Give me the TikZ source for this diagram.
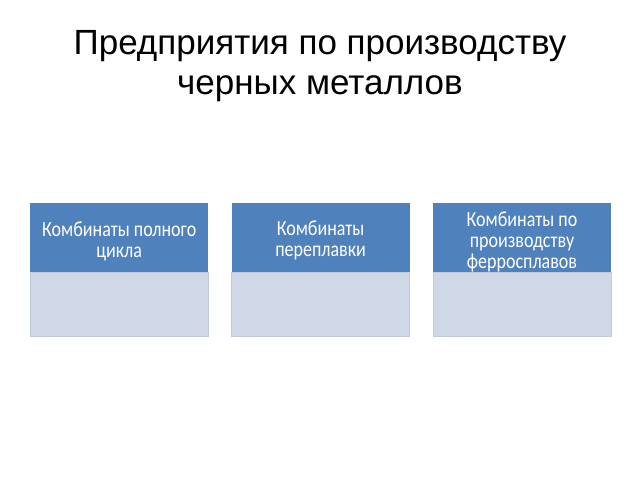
\documentclass[tikz,border=0pt]{standalone}
\usepackage{fontspec}
\setmainfont{Liberation Sans}
\newfontfamily\boxfont{Carlito}
\usepackage{xcolor}
\usetikzlibrary{positioning}
\definecolor{headblue}{HTML}{4F81BD}
\definecolor{bodyblue}{HTML}{D0D8E8}
\tikzstyle{title} = [align=center, font=\fontsize{35}{40}\selectfont, inner sep=0]
\tikzstyle{head} = [fill=headblue, minimum width=178pt, minimum height=69pt, inner sep=0]
\tikzstyle{headtext} = [text=white, align=center, inner sep=0, yscale=1.2, transform shape, font=\boxfont\fontsize{18}{17.5}\selectfont]
\tikzstyle{body} = [fill=bodyblue, draw=bodyblue!85!gray, minimum width=178pt, minimum height=64pt, inner sep=0]

\begin{document}
\begin{tikzpicture}[x=1pt, y=1pt, node distance=23pt]
	  \useasboundingbox [fill=white] (0,0) rectangle (640,-480);
	  \node [title, anchor=north] (title) at (320,-30) {Предприятия по производству\\черных металлов};
	
	  \node [head, anchor=north west] (full) at (30,-203) {};
	  \node [head, right=of full] (remelt) {};
	  \node [head, right=of remelt] (ferro) {};
	
	  \node [headtext] (fulltext) at ([yshift=-4pt]full.center) {Комбинаты полного\\цикла};
	  \node [headtext] (remelttext) at ([yshift=-3pt]remelt.center) {Комбинаты\\переплавки};
	  \node [headtext] (ferrotext) at ([yshift=-4pt]ferro.center) {Комбинаты по\\производству\\ферросплавов};
	
	  \node [body, below=0pt of full] (fullbody) {};
	  \node [body, below=0pt of remelt] (remeltbody) {};
	  \node [body, below=0pt of ferro] (ferrobody) {};
	\end{tikzpicture}
\end{document}
